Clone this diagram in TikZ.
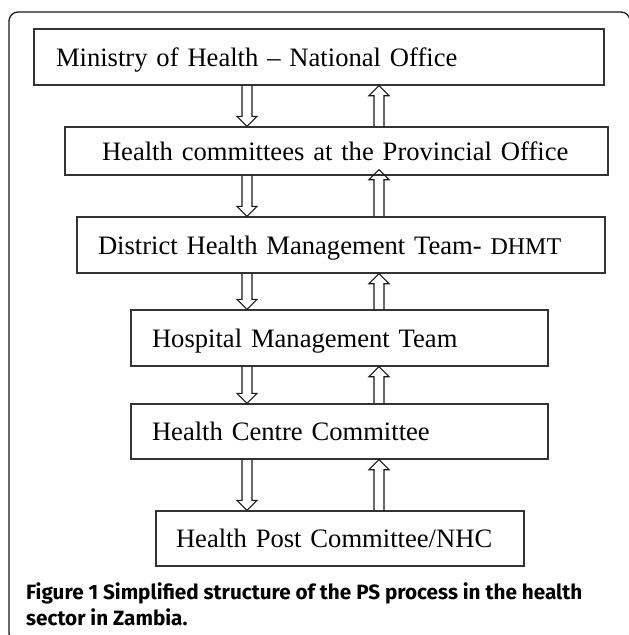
\documentclass[tikz,border=0pt]{standalone}
\usepackage{fontspec}
\setmainfont{Liberation Serif}
\newfontfamily\capfont{Fira Sans}
\usetikzlibrary{calc}
\tikzset{
  lvl/.style={draw=black!80, line width=1.4pt, rectangle, inner xsep=0pt, inner ysep=0pt,
    font=\fontsize{26.6}{30}\selectfont, text height=18pt, text depth=0pt, align=left},
  blk/.style={draw=black!90, line width=1.1pt, line join=miter},
  framebox/.style={draw=black!90, line width=1.3pt, rounded corners=9pt},
  captxt/.style={font=\capfont\bfseries\fontsize{20.7}{24}\selectfont, anchor=base west, inner sep=0pt}
}
\newcommand\darrow[3]{\draw[blk] let \p1=(#1.south -| #3), \p2=(#2.north -| #3) in
  (\x1-5pt,\y1) -- (\x1-5pt,\y2+10pt) -- (\x1-10pt,\y2+10pt) -- (\x1,\y2) --
  (\x1+10pt,\y2+10pt) -- (\x1+5pt,\y2+10pt) -- (\x1+5pt,\y1);}
\newcommand\uarrow[4]{\draw[blk] let \p1=(#1.south -| #3), \p2=(#2.north -| #3) in
  (\x1-5pt,\y2) -- (\x1-5pt,\y1+#4-10pt) -- (\x1-10pt,\y1+#4-10pt) -- (\x1,\y1+#4) --
  (\x1+10pt,\y1+#4-10pt) -- (\x1+5pt,\y1+#4-10pt) -- (\x1+5pt,\y2);}
\begin{document}
\begin{tikzpicture}[x=1pt,y=-1pt]
\useasboundingbox (0,0) rectangle (629,635);
\begin{scope}
\clip (0,0) rectangle (629,635);
\draw[framebox] (9,12) rectangle (630,642);
\end{scope}
\coordinate (dx) at (247,0);
\coordinate (ux) at (379,0);
\node[lvl, minimum width=570pt, minimum height=56pt, text width=526pt] (b1) at (319,57) {\mbox{Ministry of Health -- National Office}};
\node[lvl, minimum width=543pt, minimum height=48pt, text width=469pt] (b2) at (336.5,151) {\mbox{Health committees at the Provincial Office}};
\node[lvl, minimum width=528pt, minimum height=56pt, text width=486pt] (b3) at (341,245) {\mbox{District Health Management Team- {\fontsize{24}{28}\selectfont DHMT}}};
\node[lvl, minimum width=417pt, minimum height=56pt, text width=375pt] (b4) at (339.5,338) {\mbox{Hospital Management Team}};
\node[lvl, minimum width=417pt, minimum height=55pt, text width=375pt] (b5) at (339.5,431.5) {\mbox{Health Centre Committee}};
\node[lvl, minimum width=368pt, minimum height=55pt, text width=328pt] (b6) at (340,538.5) {\mbox{Health Post Committee/NHC}};
\darrow{b1}{b2}{dx}\uarrow{b1}{b2}{ux}{0pt}
\darrow{b2}{b3}{dx}\uarrow{b2}{b3}{ux}{6pt}
\darrow{b3}{b4}{dx}\uarrow{b3}{b4}{ux}{0pt}
\darrow{b4}{b5}{dx}\uarrow{b4}{b5}{ux}{0pt}
\darrow{b5}{b6}{dx}\uarrow{b5}{b6}{ux}{0pt}
\node[captxt] (c1) at (26,599) {Figure 1 Simplified structure of the PS process in the health};
\node[captxt] (c2) at (26,625) {sector in Zambia.};
\end{tikzpicture}
\end{document}
